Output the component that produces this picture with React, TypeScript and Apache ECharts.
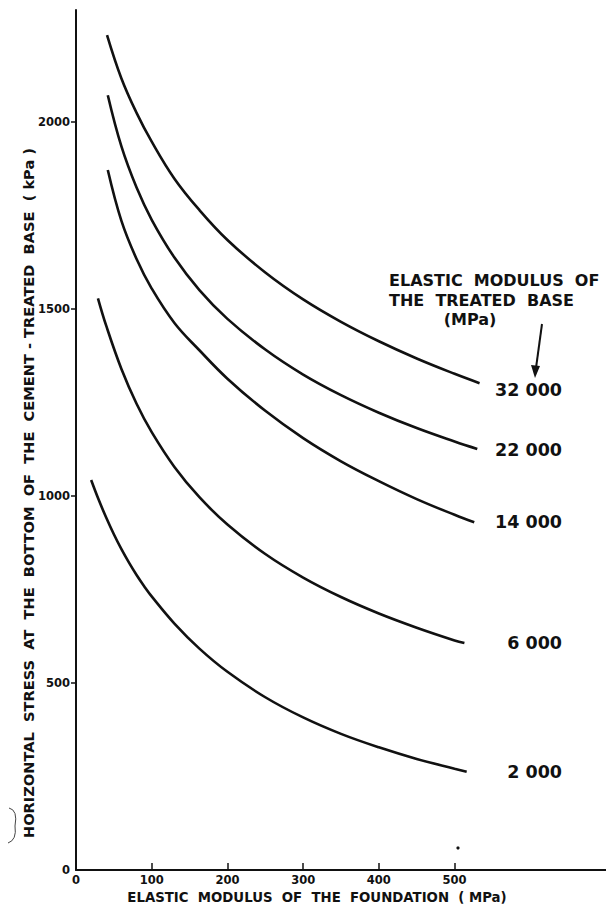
import React, { useEffect, useRef } from "react";
import * as echarts from "echarts";

// Axis ticks / labels
const X_LABELS = [0, 100, 200, 300, 400, 500];
const X_TICKS = [100, 200, 300, 400, 500];
const Y_LABELS = [0, 500, 1000, 1500, 2000];
const Y_TICKS = [500, 1000, 1500, 2000];

// Curves: elastic modulus of foundation (MPa) -> horizontal stress (kPa)
const E32000_X = [41, 60, 80, 100, 130, 163, 200, 250, 300, 350, 400, 450, 500, 533];
const E32000_Y = [2233, 2117, 2025, 1948, 1849, 1765, 1685, 1598, 1526, 1466, 1414, 1368, 1327, 1302];

const E22000_X = [42, 60, 80, 100, 130, 163, 200, 250, 300, 350, 400, 450, 500, 530];
const E22000_Y = [2072, 1935, 1825, 1739, 1638, 1551, 1474, 1392, 1325, 1270, 1223, 1182, 1146, 1126];

const E14000_X = [42, 60, 80, 100, 130, 163, 200, 250, 300, 350, 400, 450, 500, 526];
const E14000_Y = [1872, 1736, 1634, 1555, 1463, 1390, 1314, 1228, 1155, 1093, 1040, 992, 950, 930];

const E6000_X = [29, 40, 60, 80, 100, 130, 163, 200, 250, 300, 350, 400, 450, 500, 513];
const E6000_Y = [1529, 1455, 1340, 1247, 1171, 1078, 997, 924, 845, 782, 730, 686, 648, 614, 607];

const E2000_X = [20, 30, 40, 50, 60, 70, 80, 90, 101, 130, 163, 200, 250, 300, 350, 400, 450, 500, 516];
const E2000_Y = [1043, 990, 942, 898, 858, 822, 789, 759, 729, 659, 592, 530, 462, 408, 364, 328, 297, 271, 263];

const CURVE_NAMES = ["32 000", "22 000", "14 000", "6 000", "2 000"];
const CURVES_X = [E32000_X, E22000_X, E14000_X, E6000_X, E2000_X];
const CURVES_Y = [E32000_Y, E22000_Y, E14000_Y, E6000_Y, E2000_Y];

const X_NAME = "ELASTIC  MODULUS  OF  THE  FOUNDATION  ( MPa)";
const Y_NAME = "HORIZONTAL  STRESS  AT  THE  BOTTOM  OF  THE  CEMENT - TREATED  BASE  ( kPa )";
const LEGEND_TITLE = ["ELASTIC  MODULUS  OF", "THE  TREATED  BASE", "(MPa)"];

const INK = "#111";
const FONT = "DejaVu Sans";

export default function App() {
  const ref = useRef<HTMLDivElement>(null);

  useEffect(() => {
    if (!ref.current) return;
    const chart = echarts.init(ref.current, undefined, { renderer: "svg" });

    const series = CURVE_NAMES.map((name, i) => ({
      name,
      type: "line",
      smooth: 0.4,
      showSymbol: false,
      symbol: "none",
      lineStyle: { color: INK, width: 2.6 },
      data: CURVES_X[i].map((x, j) => [x, CURVES_Y[i][j]]),
    }));

    const labelY = [390, 450, 522, 643, 772];
    const curveLabels = CURVE_NAMES.map((n, i) => ({
      type: "text",
      x: 562,
      y: labelY[i],
      style: {
        text: n,
        fill: INK,
        font: `bold 17.5px '${FONT}'`,
        textAlign: "right",
        textVerticalAlign: "middle",
      },
    }));

    const titleStyle = (text: string, align: string) => ({
      text,
      fill: INK,
      font: `bold 16px '${FONT}'`,
      textAlign: align,
      textVerticalAlign: "middle",
    });

    chart.setOption({
      animation: false,
      backgroundColor: "#fff",
      grid: { left: 76, right: -2, top: 10, bottom: 38, containLabel: false },
      xAxis: {
        type: "value",
        min: 0,
        max: 700,
        interval: 100,
        axisLine: { show: true, lineStyle: { color: INK, width: 2 } },
        axisTick: {
          show: true,
          inside: true,
          length: 7,
          customValues: X_TICKS,
          lineStyle: { color: INK, width: 1.5 },
        },
        axisLabel: {
          customValues: X_LABELS,
          formatter: (v: number) => String(v),
          color: INK,
          fontFamily: FONT,
          fontWeight: "bold",
          fontSize: 11.5,
          margin: 4,
        },
        splitLine: { show: false },
      },
      yAxis: {
        type: "value",
        min: 0,
        max: 2300,
        interval: 500,
        axisLine: { show: true, lineStyle: { color: INK, width: 2 } },
        axisTick: {
          show: true,
          inside: false,
          length: 5,
          customValues: Y_TICKS,
          lineStyle: { color: INK, width: 1.5 },
        },
        axisLabel: {
          customValues: Y_LABELS,
          formatter: (v: number) => String(v),
          color: INK,
          fontFamily: FONT,
          fontWeight: "bold",
          fontSize: 11.5,
          margin: 6,
        },
        splitLine: { show: false },
      },
      series,
      graphic: [
        ...curveLabels,
        {
          type: "text",
          x: 317,
          y: 897,
          style: {
            text: X_NAME,
            fill: INK,
            font: `bold 13.3px '${FONT}'`,
            textAlign: "center",
            textVerticalAlign: "middle",
          },
        },
        {
          type: "text",
          x: 28,
          y: 493,
          rotation: Math.PI / 2,
          style: {
            text: Y_NAME,
            fill: INK,
            font: `bold 14.6px '${FONT}'`,
            textAlign: "center",
            textVerticalAlign: "middle",
          },
        },
        { type: "text", x: 389, y: 280, style: titleStyle(LEGEND_TITLE[0], "left") },
        { type: "text", x: 389, y: 300, style: titleStyle(LEGEND_TITLE[1], "left") },
        { type: "text", x: 470, y: 319, style: titleStyle(LEGEND_TITLE[2], "center") },
        {
          type: "line",
          shape: { x1: 542, y1: 324, x2: 536, y2: 368 },
          style: { stroke: INK, lineWidth: 2 },
        },
        {
          type: "polygon",
          shape: { points: [[535, 378], [531, 365], [540, 366]] },
          style: { fill: INK },
        },
        {
          type: "circle",
          shape: { cx: 458, cy: 848, r: 1.6 },
          style: { fill: INK },
        },
        // scan artifact: small brace left of the y-axis title
        {
          type: "bezierCurve",
          shape: { x1: 9, y1: 808, cpx1: 18, cpy1: 810, x2: 15, y2: 826 },
          style: { stroke: "#444", lineWidth: 1, fill: "none" },
        },
        {
          type: "bezierCurve",
          shape: { x1: 15, y1: 826, cpx1: 17, cpy1: 840, x2: 8, y2: 843 },
          style: { stroke: "#444", lineWidth: 1, fill: "none" },
        },
      ],
    });

    return () => chart.dispose();
  }, []);

  return (
    <div
      ref={ref}
      style={{ position: "fixed", left: 0, top: 0, width: 606, height: 908, background: "#fff" }}
    />
  );
}
